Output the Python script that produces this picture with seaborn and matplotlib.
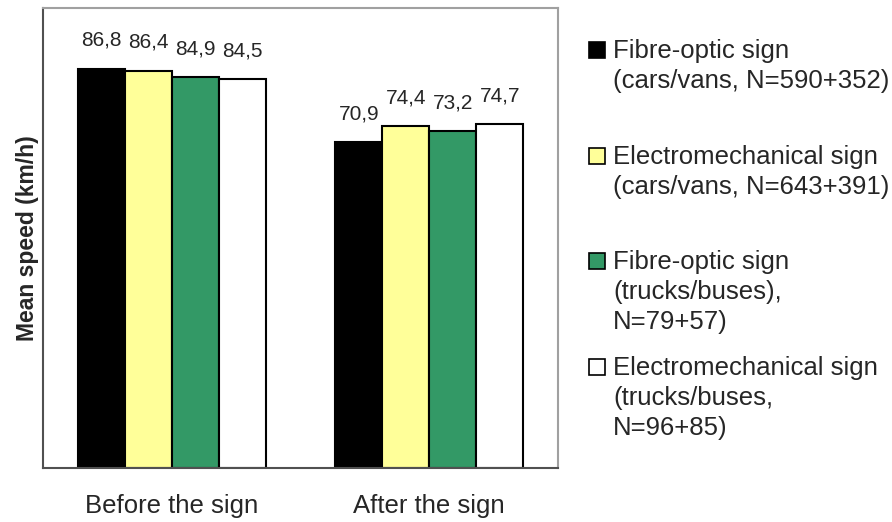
import pandas as pd
import matplotlib
matplotlib.use("Agg")
import matplotlib.pyplot as plt
from matplotlib.patches import Rectangle
import seaborn as sns

# --- данные ---
positions = ["Before the sign", "After the sign"]
signs = ["FO cars", "EM cars", "FO trucks", "EM trucks"]
before_speed = [86.8, 86.4, 84.9, 84.5]
after_speed = [70.9, 74.4, 73.2, 74.7]
colors = ["#000000", "#FFFF99", "#339966", "#FFFFFF"]
legend_lines = [
    ["Fibre-optic sign", "(cars/vans, N=590+352)"],
    ["Electromechanical sign", "(cars/vans, N=643+391)"],
    ["Fibre-optic sign", "(trucks/buses),", "N=79+57)"],
    ["Electromechanical sign", "(trucks/buses,", "N=96+85)"],
]

df = pd.DataFrame({
    "position": [positions[0]] * 4 + [positions[1]] * 4,
    "sign": signs * 2,
    "speed": before_speed + after_speed,
})

sns.set_style("white")
plt.rcParams["font.family"] = ["Liberation Sans", "DejaVu Sans"]

W, H = 892, 522
fig = plt.figure(figsize=(W / 100, H / 100), dpi=100)
ax = fig.add_axes([43 / W, 1 - 468 / H, (558 - 43) / W, (468 - 8) / H])

sns.barplot(data=df, x="position", y="speed", hue="sign", hue_order=signs,
            palette=colors, saturation=1, edgecolor="black", linewidth=1.5,
            width=0.73, legend=False, ax=ax)

for cont in ax.containers:
    ax.bar_label(cont, labels=[f"{v:.1f}".replace(".", ",") for v in cont.datavalues],
                 padding=13.5, fontsize=15)

ax.set_ylim(0, 100)
ax.set_yticks([])
ax.set_xlabel("")
ax.set_ylabel("Mean speed (km/h)", fontsize=16.5, fontweight="bold")
ax.yaxis.set_label_coords(-0.007, 0.5)
ax.tick_params(axis="x", length=0, labelsize=18.5, pad=19)

for side in ["top", "right"]:
    ax.spines[side].set_color("#a0a0a0")
    ax.spines[side].set_linewidth(1.5)
for side in ["left", "bottom"]:
    ax.spines[side].set_color("#505050")
    ax.spines[side].set_linewidth(1.5)

# --- легенда вручную (как в Excel: равный шаг между элементами) ---
base = 58
for i, (lines, col) in enumerate(zip(legend_lines, colors)):
    y0 = base + i * 105.7
    fig.patches.append(Rectangle((589 / W, 1 - y0 / H), 16 / W, 16 / H,
                                 transform=fig.transFigure, facecolor=col,
                                 edgecolor="black", linewidth=1.2))
    for j, txt in enumerate(lines):
        fig.text(613 / W, 1 - (y0 + j * 30) / H, txt, fontsize=18.5,
                 ha="left", va="baseline")

fig.savefig("out.png", dpi=100)
